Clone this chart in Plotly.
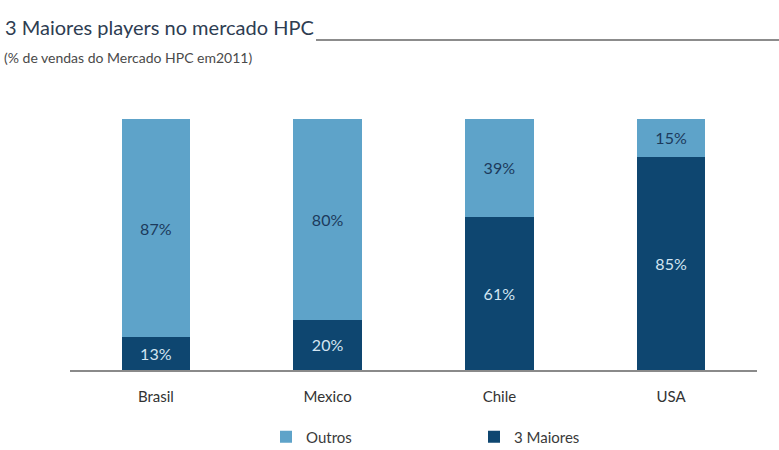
import plotly.graph_objects as go

# Market share data (% of HPC market sales, 2011)
countries = ["Brasil", "Mexico", "Chile", "USA"]
top3 = [13, 20, 61, 85]
others = [87, 80, 39, 15]

LIGHT = "#5ea3c9"
DARK = "#0e4670"
FONT = "Lato, 'Open Sans', sans-serif"

fig = go.Figure()
fig.add_trace(go.Bar(
    x=countries, y=top3, name="3 Maiores",
    marker=dict(color=DARK, line=dict(width=0)),
    text=[f"{v}%" for v in top3], textposition="inside",
    insidetextanchor="middle", constraintext="none",
    textfont=dict(color="#d3e5f2", size=16, family=FONT),
    hoverinfo="skip",
))
fig.add_trace(go.Bar(
    x=countries, y=others, name="Outros",
    marker=dict(color=LIGHT, line=dict(width=0)),
    text=[f"{v}%" for v in others], textposition="inside",
    insidetextanchor="middle", constraintext="none",
    textfont=dict(color="#1c3a5c", size=16, family=FONT),
    hoverinfo="skip",
))

fig.update_layout(
    width=779, height=450,
    barmode="stack", bargap=0.6,
    paper_bgcolor="white", plot_bgcolor="white",
    margin=dict(l=70, r=22, t=119, b=80),
    font=dict(family=FONT, color="#3a3a3a"),
    title=dict(
        text="3 Maiores players no mercado HPC",
        font=dict(size=20, color="#2e3d52", family=FONT),
        xref="container", yref="container",
        x=5 / 779, xanchor="left", y=1 - 28 / 450, yanchor="middle",
    ),
    showlegend=True,
    legend=dict(
        orientation="h", traceorder="reversed",
        xref="container", yref="container",
        x=266 / 779, xanchor="left", y=1 - 437 / 450, yanchor="middle",
        font=dict(size=15, color="#3a3a3a", family=FONT),
        entrywidth=163, entrywidthmode="pixels",
        itemsizing="constant",
    ),
    xaxis=dict(
        showline=True, linecolor="#8a8a8a", linewidth=1.5,
        ticks="", ticklabelstandoff=12,
        tickfont=dict(size=15, color="#333333", family=FONT),
        showgrid=False, zeroline=False,
    ),
    yaxis=dict(
        range=[0, 100], visible=False, showgrid=False, zeroline=False,
    ),
    annotations=[
        dict(
            text="(% de vendas do Mercado HPC em2011)",
            xref="paper", yref="paper",
            x=-68 / 687, xanchor="left",
            y=1 + (119 - 57) / 251, yanchor="middle",
            showarrow=False,
            font=dict(size=14, color="#4a4a4a", family=FONT),
        )
    ],
    shapes=[
        # rule extending from the title to the right edge
        dict(
            type="line", xref="paper", yref="paper",
            x0=(316 - 70) / 687, x1=(779 - 70) / 687,
            y0=1 + (119 - 40) / 251, y1=1 + (119 - 40) / 251,
            line=dict(color="#8c8c8c", width=2),
        )
    ],
)

fig.write_html("out.html")
